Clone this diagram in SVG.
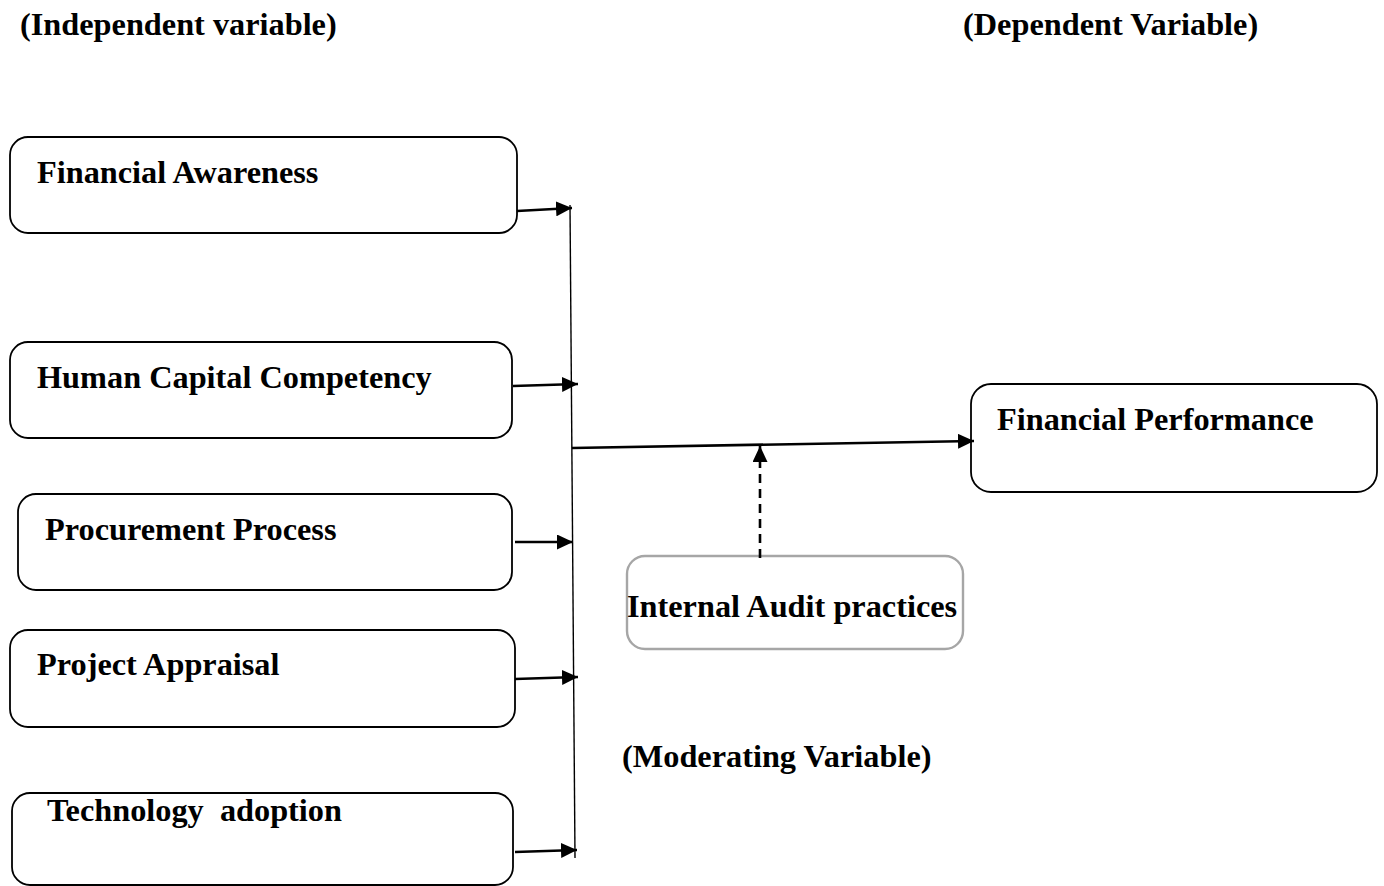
<svg xmlns="http://www.w3.org/2000/svg" width="1384" height="886" viewBox="0 0 1384 886">
<style>
  .box { fill: #fff; stroke: #000; stroke-width: 1.8; }
  .mod { fill: #fff; stroke: #a6a6a6; stroke-width: 2.4; }
  .t { font-family: "Liberation Serif", "Times New Roman", serif; font-weight: bold; font-size: 32.3px; fill: #000; white-space: pre; }
  .c { stroke: #000; stroke-width: 2.6; fill: none; }
  .v { stroke: #000; stroke-width: 1.4; fill: none; }
  .d { stroke: #000; stroke-width: 2.6; fill: none; stroke-dasharray: 9 6; }
</style>
<defs>
  <marker id="ah" markerUnits="userSpaceOnUse" viewBox="0 0 16 15" markerWidth="16" markerHeight="15" refX="16" refY="7.5" orient="auto">
    <path d="M0,0 L16,7.5 L0,15 z" fill="#000"/>
  </marker>
</defs>
<rect width="1384" height="886" fill="#fff"/>

<g id="labels">
  <text class="t" x="20" y="35">(Independent variable)</text>
  <text class="t" x="963" y="35">(Dependent Variable)</text>
  <text class="t" x="622" y="767">(Moderating Variable)</text>
</g>

<g id="node-financial-awareness">
  <rect class="box" x="10" y="137" width="507" height="96" rx="18"/>
  <text class="t" x="37" y="183">Financial Awareness</text>
</g>
<g id="node-human-capital">
  <rect class="box" x="10" y="342" width="502" height="96" rx="18"/>
  <text class="t" x="37" y="388">Human Capital Competency</text>
</g>
<g id="node-procurement">
  <rect class="box" x="18" y="494" width="494" height="96" rx="18"/>
  <text class="t" x="45" y="540">Procurement Process</text>
</g>
<g id="node-project-appraisal">
  <rect class="box" x="10" y="630" width="505" height="97" rx="18"/>
  <text class="t" x="37" y="675">Project Appraisal</text>
</g>
<g id="node-technology">
  <rect class="box" x="12" y="793" width="501" height="92" rx="18"/>
  <text class="t" x="47" y="821" xml:space="preserve">Technology  adoption</text>
</g>
<g id="node-financial-performance">
  <rect class="box" x="971" y="384" width="406" height="108" rx="20"/>
  <text class="t" x="997" y="430">Financial Performance</text>
</g>
<g id="node-internal-audit">
  <rect class="mod" x="627" y="556" width="336" height="93" rx="18"/>
  <text class="t" x="627" y="617">Internal Audit practices</text>
</g>

<g id="connectors">
  <line class="v" x1="570" y1="205" x2="575" y2="858"/>
  <line class="c" x1="517" y1="211" x2="572" y2="208" marker-end="url(#ah)"/>
  <line class="c" x1="513" y1="386" x2="578" y2="384" marker-end="url(#ah)"/>
  <line class="c" x1="515" y1="542" x2="573" y2="542" marker-end="url(#ah)"/>
  <line class="c" x1="515" y1="679" x2="578" y2="677" marker-end="url(#ah)"/>
  <line class="c" x1="515" y1="852" x2="577" y2="850" marker-end="url(#ah)"/>
  <line class="c" x1="572" y1="448" x2="974" y2="441" marker-end="url(#ah)"/>
  <line class="d" x1="760" y1="558" x2="760" y2="446" marker-end="url(#ah)"/>
</g>
</svg>
